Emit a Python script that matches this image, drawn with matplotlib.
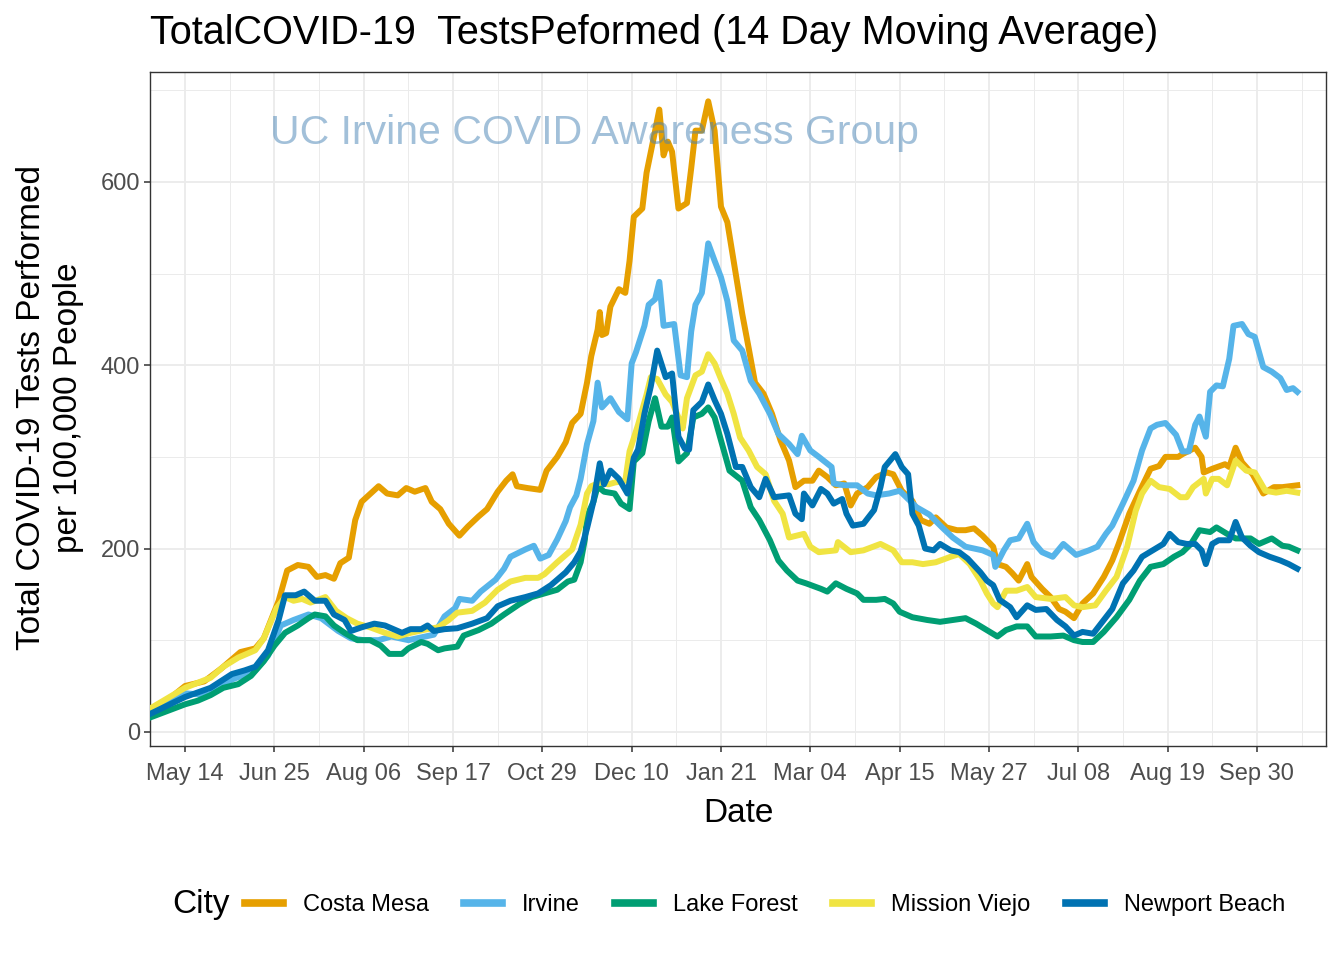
import matplotlib
matplotlib.use("Agg")
import matplotlib.pyplot as plt
from matplotlib.lines import Line2D
from matplotlib.ticker import MultipleLocator
import pandas as pd

plt.rcParams["font.family"] = ["Liberation Sans", "DejaVu Sans"]

# start of the series; day offsets below count from here
start = pd.Timestamp("2020-04-28")

cities = ["Costa Mesa", "Irvine", "Lake Forest", "Mission Viejo", "Newport Beach"]
colors = ["#E69F00", "#56B4E9", "#009E73", "#F0E442", "#0072B2"]

cm_day = [0, 16, 25, 33, 42, 49, 53, 60, 64, 69, 74, 78, 82, 86, 89, 93, 96, 99, 107, 111,
          116, 120, 124, 129, 132, 136, 140, 145, 149, 154, 158, 163, 167, 170, 172, 177, 183, 186, 191, 195,
          198, 202, 205, 207, 210, 211, 212, 214, 216, 220, 223, 225, 227, 231, 233, 236, 239, 241, 243, 245,
          248, 252, 254, 256, 259, 262, 265, 268, 271, 275, 278, 281, 284, 288, 292, 296, 300, 303, 307, 311,
          314, 318, 322, 326, 329, 332, 337, 341, 346, 349, 353, 358, 362, 366, 369, 374, 379, 383, 387, 391,
          396, 398, 402, 405, 408, 412, 414, 419, 423, 427, 430, 434, 438, 443, 448, 452, 455, 460, 465, 470,
          474, 477, 483, 485, 491, 494, 495, 499, 505, 507, 510, 513, 518, 523, 528, 532, 539]
cm_val = [20, 50, 55, 69, 87, 91, 102, 143, 176, 182, 180, 169, 171, 167, 184, 190, 231, 251, 268, 260,
          258, 266, 262, 266, 251, 243, 227, 214, 224, 235, 243, 262, 274, 281, 268, 266, 264, 285, 300, 316,
          337, 347, 381, 410, 439, 458, 433, 435, 464, 483, 479, 514, 562, 571, 610, 644, 679, 629, 644, 633,
          571, 577, 615, 656, 656, 688, 656, 573, 556, 499, 456, 419, 381, 369, 347, 318, 296, 267, 274, 274,
          285, 278, 269, 271, 247, 260, 267, 278, 283, 281, 263, 252, 231, 227, 234, 223, 220, 220, 222, 214,
          202, 183, 180, 173, 165, 183, 169, 156, 147, 134, 131, 124, 140, 151, 169, 187, 205, 238, 263, 287,
          290, 300, 300, 303, 310, 300, 283, 287, 292, 289, 310, 294, 281, 260, 267, 267, 269]

ir_day = [0, 16, 27, 38, 49, 55, 61, 67, 74, 80, 88, 94, 100, 107, 113, 121, 129, 133, 138, 143,
          145, 151, 155, 162, 166, 169, 176, 180, 183, 187, 191, 195, 197, 200, 202, 205, 208, 210, 212, 216,
          220, 224, 226, 228, 232, 234, 237, 239, 241, 246, 249, 252, 254, 256, 259, 261, 262, 265, 268, 271,
          274, 278, 282, 286, 291, 295, 300, 304, 306, 310, 314, 320, 321, 326, 332, 337, 341, 347, 352, 360,
          366, 372, 377, 383, 391, 396, 397, 401, 404, 408, 412, 415, 419, 424, 429, 435, 441, 445, 449, 452,
          457, 462, 466, 470, 473, 477, 482, 485, 488, 491, 493, 496, 498, 501, 504, 507, 509, 513, 516, 519,
          523, 527, 531, 534, 537, 539]
ir_val = [18, 42, 40, 57, 67, 83, 116, 122, 128, 124, 110, 102, 100, 100, 104, 100, 104, 106, 126, 135,
          145, 143, 153, 166, 178, 191, 199, 203, 189, 193, 210, 230, 245, 258, 276, 314, 339, 381, 354, 364,
          349, 341, 402, 414, 443, 466, 472, 491, 443, 445, 389, 387, 437, 466, 479, 514, 533, 514, 496, 470,
          427, 416, 383, 369, 347, 325, 314, 303, 323, 307, 300, 289, 271, 269, 269, 260, 258, 260, 263, 245,
          237, 223, 212, 202, 198, 193, 180, 198, 209, 211, 227, 207, 196, 191, 205, 193, 198, 202, 216, 225,
          249, 274, 307, 331, 335, 337, 324, 306, 306, 335, 344, 322, 371, 378, 377, 407, 443, 445, 434, 431,
          398, 393, 386, 373, 375, 371]

lf_day = [0, 16, 22, 28, 34, 41, 47, 53, 58, 63, 69, 74, 77, 82, 86, 91, 97, 103, 108, 112,
          118, 121, 127, 130, 135, 138, 144, 147, 154, 160, 166, 173, 179, 185, 191, 196, 199, 202, 204, 205,
          208, 210, 213, 218, 221, 225, 227, 231, 234, 237, 240, 243, 245, 248, 252, 255, 259, 262, 265, 268,
          272, 278, 282, 286, 291, 295, 299, 304, 308, 315, 318, 322, 327, 332, 335, 341, 345, 349, 352, 358,
          365, 371, 377, 383, 388, 393, 398, 402, 407, 412, 416, 423, 429, 434, 438, 443, 448, 454, 460, 465,
          470, 476, 481, 485, 489, 493, 498, 501, 506, 510, 517, 521, 527, 532, 535, 539]
lf_val = [16, 30, 34, 40, 48, 52, 61, 77, 94, 108, 116, 124, 128, 126, 116, 108, 100, 100, 94, 85,
          85, 91, 98, 96, 89, 91, 93, 105, 111, 118, 128, 139, 147, 151, 155, 164, 166, 185, 210, 235,
          251, 268, 262, 260, 249, 243, 295, 304, 339, 364, 333, 333, 343, 295, 304, 343, 347, 354, 343, 318,
          285, 274, 245, 231, 209, 187, 176, 165, 162, 156, 153, 162, 156, 151, 144, 144, 145, 140, 131, 125,
          122, 120, 122, 124, 118, 111, 104, 111, 115, 115, 104, 104, 105, 100, 98, 98, 109, 125, 144, 165,
          180, 183, 191, 196, 205, 220, 218, 223, 216, 211, 211, 205, 211, 203, 202, 198]

mv_day = [0, 16, 28, 34, 41, 49, 53, 59, 63, 67, 71, 75, 82, 87, 92, 97, 103, 110, 116, 122,
          130, 135, 140, 144, 151, 157, 163, 169, 176, 182, 185, 191, 198, 202, 205, 207, 211, 215, 218, 223,
          225, 229, 233, 235, 238, 242, 245, 248, 250, 252, 256, 259, 262, 265, 268, 271, 274, 277, 281, 285,
          289, 293, 297, 300, 307, 310, 314, 322, 323, 329, 335, 343, 349, 353, 358, 363, 369, 376, 380, 385,
          390, 393, 396, 398, 402, 407, 412, 416, 423, 430, 434, 438, 444, 449, 454, 459, 463, 466, 470, 474,
          479, 484, 487, 490, 495, 496, 499, 502, 506, 510, 515, 519, 524, 529, 534, 539]
mv_val = [26, 48, 59, 71, 81, 89, 102, 135, 147, 143, 145, 141, 147, 132, 124, 118, 114, 108, 104, 108,
          112, 114, 122, 130, 132, 141, 155, 164, 168, 168, 172, 185, 199, 226, 260, 268, 272, 270, 272, 274,
          306, 335, 368, 387, 385, 368, 360, 343, 331, 364, 389, 393, 412, 402, 385, 369, 347, 321, 307, 289,
          281, 252, 238, 212, 216, 202, 196, 198, 207, 196, 198, 205, 198, 185, 185, 183, 185, 191, 194, 183,
          165, 151, 140, 136, 154, 154, 158, 147, 145, 147, 138, 136, 138, 154, 169, 202, 241, 260, 274, 267,
          265, 256, 256, 267, 276, 260, 276, 276, 269, 296, 285, 283, 263, 261, 263, 261]

nb_day = [0, 16, 28, 38, 44, 49, 55, 60, 63, 68, 72, 77, 82, 86, 91, 94, 99, 105, 110, 118,
          122, 127, 130, 133, 138, 144, 151, 158, 163, 169, 176, 182, 188, 195, 199, 202, 205, 208, 211, 213,
          216, 220, 224, 227, 229, 232, 235, 238, 242, 245, 248, 251, 253, 255, 259, 262, 265, 268, 271, 275,
          278, 282, 286, 289, 293, 300, 303, 306, 307, 311, 315, 318, 321, 325, 327, 330, 335, 340, 343, 345,
          350, 353, 356, 358, 361, 364, 368, 371, 376, 380, 384, 390, 393, 396, 399, 404, 407, 412, 416, 421,
          426, 430, 434, 438, 443, 448, 452, 457, 462, 466, 471, 476, 479, 483, 487, 491, 494, 496, 499, 502,
          507, 510, 513, 517, 521, 526, 531, 535, 539]
nb_val = [20, 38, 48, 63, 67, 71, 89, 122, 149, 149, 153, 143, 143, 128, 122, 110, 114, 118, 116, 108,
          112, 112, 116, 110, 112, 113, 118, 124, 137, 143, 147, 151, 160, 174, 185, 197, 222, 251, 293, 270,
          285, 276, 260, 299, 308, 347, 377, 416, 387, 391, 322, 309, 308, 351, 360, 379, 362, 347, 325, 289,
          289, 267, 256, 276, 256, 258, 238, 232, 260, 247, 265, 260, 249, 254, 238, 225, 227, 242, 267, 289,
          303, 289, 281, 238, 225, 200, 198, 205, 198, 196, 189, 174, 165, 160, 144, 136, 125, 138, 133, 134,
          122, 115, 105, 109, 107, 122, 134, 162, 176, 191, 198, 205, 216, 207, 205, 205, 198, 183, 205, 209,
          209, 229, 212, 203, 196, 191, 187, 183, 178]

tick_dates = ["2020-05-14", "2020-06-25", "2020-08-06", "2020-09-17", "2020-10-29", "2020-12-10",
              "2021-01-21", "2021-03-04", "2021-04-15", "2021-05-27", "2021-07-08", "2021-08-19",
              "2021-09-30"]

series = [(cm_day, cm_val), (ir_day, ir_val), (lf_day, lf_val), (mv_day, mv_val), (nb_day, nb_val)]

fig = plt.figure(figsize=(13.44, 9.6), dpi=100)
ax = fig.add_axes([150 / 1344, 1 - 746 / 960, 1176 / 1344, 674 / 960])

for (d, v), c in zip(series, colors):
    x = start + pd.to_timedelta(d, unit="D")
    ax.plot(x, v, color=c, lw=4.3, solid_joinstyle="round", zorder=3)

ticks = pd.to_datetime(tick_dates)
ax.set_xticks(ticks)
ax.set_xticklabels([t.strftime("%b %d") for t in ticks])
minor = [t + pd.Timedelta(days=21) for t in ticks]
ax.set_xticks(minor, minor=True)
ax.set_yticks([0, 200, 400, 600])
ax.yaxis.set_minor_locator(MultipleLocator(100))

# limits after the ticks, so set_xticks does not widen them
ax.set_xlim(start - pd.Timedelta(days=0.5), start + pd.Timedelta(days=552.5))
ax.set_ylim(-15.5, 720)

ax.grid(which="major", color="#EBEBEB", lw=1.3, zorder=0)
ax.grid(which="minor", color="#EBEBEB", lw=0.7, zorder=0)
ax.set_axisbelow(True)
ax.tick_params(which="major", length=4, width=1.1, color="#333333", labelsize=17,
               labelcolor="#4D4D4D")
ax.tick_params(axis="x", which="major", pad=8.5)
ax.tick_params(axis="y", which="major", pad=3)
ax.tick_params(which="minor", length=0)
for s in ax.spines.values():
    s.set_color("#333333")
    s.set_linewidth(1.0)

fig.text(150 / 1344, 1 - 44 / 960, "TotalCOVID-19  TestsPeformed (14 Day Moving Average)",
         fontsize=28.5, ha="left", va="baseline")
fig.text(270 / 1344, 1 - 144 / 960, "UC Irvine COVID Awareness Group", fontsize=29.5,
         color="#4682B4", alpha=0.5, ha="left", va="baseline", zorder=5)

fig.text(50 / 1344, 1 - 408 / 960, "Total COVID-19 Tests Performed\nper 100,000 People",
         rotation=90, fontsize=24, ha="center", va="center", multialignment="center",
         linespacing=1.25)
fig.text(738 / 1344, 1 - 813 / 960, "Date", fontsize=24, ha="center", va="center")

# legend along the bottom
fig.text(172 / 1344, 1 - 905 / 960, "City", fontsize=24, ha="left", va="center")
handles = [Line2D([0], [0], color=c, lw=5.5) for c in colors]
fig.legend(handles, cities, loc="center left", bbox_to_anchor=(245 / 1344, 1 - 905 / 960),
           ncol=5, frameon=False, fontsize=17, handlelength=1.6, handletextpad=0.85,
           columnspacing=1.5, borderpad=0, borderaxespad=0)

fig.savefig("out.png", dpi=100)
